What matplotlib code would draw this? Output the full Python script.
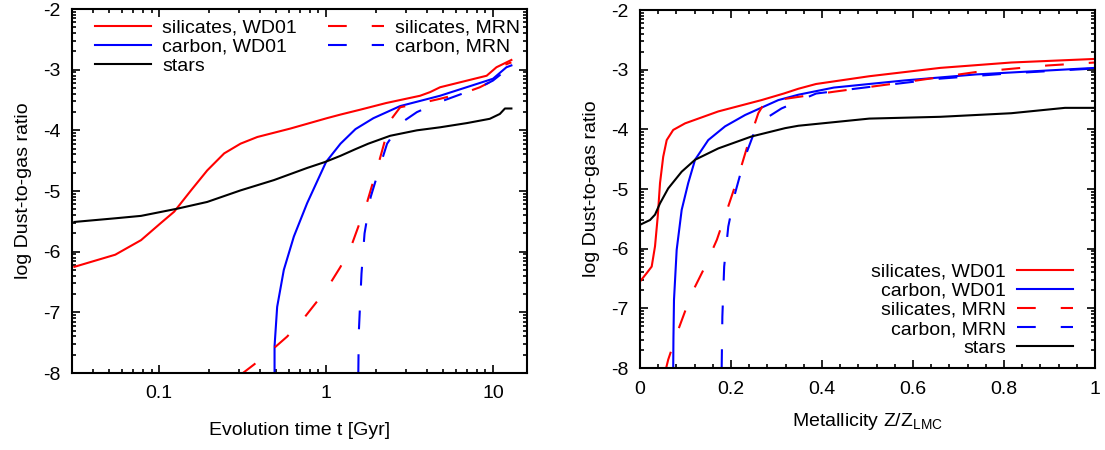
import numpy as np
import matplotlib
matplotlib.use('Agg')
import matplotlib.pyplot as plt
from matplotlib.ticker import FixedLocator, MultipleLocator, NullFormatter

plt.rcParams['font.family'] = ['Liberation Sans', 'DejaVu Sans']
plt.rcParams['font.size'] = 14
plt.rcParams['mathtext.default'] = 'regular'

# ---- left panel: dust-to-gas ratio vs evolution time [Gyr]
t_sil_wd = [0.031, 0.0545, 0.0778, 0.102, 0.123, 0.155, 0.194, 0.245, 0.307, 0.387,
            0.612, 1.01, 1.22, 1.6, 2.29, 3.66, 4.2, 4.82, 9.17, 10.5, 12.05, 12.9]
d_sil_wd = [-6.25, -6.05, -5.81, -5.53, -5.34, -4.99, -4.66, -4.38, -4.22, -4.11,
            -3.97, -3.80, -3.74, -3.66, -3.55, -3.43, -3.37, -3.29, -3.10, -2.96, -2.88, -2.84]

t_stars = [0.031, 0.0545, 0.0778, 0.129, 0.194, 0.307, 0.487, 0.77, 0.99, 1.22,
           1.5, 1.79, 2.42, 3.5, 4.82, 7.0, 9.57, 11.0, 11.8, 12.9]
d_stars = [-5.51, -5.45, -5.41, -5.29, -5.18, -4.99, -4.82, -4.62, -4.52, -4.42,
           -4.31, -4.22, -4.09, -4.00, -3.95, -3.88, -3.81, -3.73, -3.64, -3.64]

t_car_wd = [0.491, 0.491, 0.509, 0.558, 0.641, 0.77, 1.0, 1.22, 1.5, 1.92, 2.78,
            4.82, 10.0, 12.05, 12.9]
d_car_wd = [-8.0, -7.56, -6.91, -6.30, -5.75, -5.20, -4.52, -4.22, -3.98, -3.80, -3.60,
            -3.43, -3.15, -2.96, -2.93]

t_sil_mrn = [0.307, 0.37, 0.487, 0.584, 0.734, 0.883, 1.06, 1.22, 1.41, 1.75, 2.06,
             2.21, 2.42, 2.78, 4.01, 4.82, 6.95, 8.35, 10.0, 11.5, 12.9]
d_sil_mrn = [-8.03, -7.86, -7.59, -7.40, -7.10, -6.82, -6.52, -6.25, -5.92, -5.21, -4.55,
             -4.25, -3.84, -3.62, -3.53, -3.48, -3.37, -3.29, -3.18, -2.93, -2.88]

t_car_mrn = [1.56, 1.57, 1.63, 1.70, 1.85, 2.16, 2.32, 2.84, 3.50, 4.82,
             5.92, 8.35, 10.0, 12.6]
d_car_mrn = [-8.0, -7.34, -6.36, -5.70, -5.10, -4.49, -4.22, -3.87, -3.70, -3.53,
             -3.44, -3.29, -3.18, -2.96]

# ---- right panel: dust-to-gas ratio vs metallicity Z/Z_LMC
z_sil_wd = [0.0, 0.0147, 0.0257, 0.033, 0.039, 0.044, 0.051, 0.0587, 0.073, 0.099,
            0.172, 0.267, 0.316, 0.348, 0.387, 0.504, 0.66, 0.816, 1.0]
m_sil_wd = [-6.55, -6.41, -6.30, -5.96, -5.46, -4.90, -4.46, -4.18, -4.01, -3.90,
            -3.70, -3.51, -3.40, -3.32, -3.24, -3.11, -2.97, -2.88, -2.82]

z_stars = [0.0, 0.022, 0.033, 0.044, 0.062, 0.0916, 0.121, 0.172, 0.245, 0.319,
           0.348, 0.504, 0.66, 0.816, 0.934, 1.0]
m_stars = [-5.60, -5.52, -5.43, -5.24, -4.99, -4.71, -4.51, -4.32, -4.12, -3.98,
           -3.94, -3.82, -3.79, -3.73, -3.64, -3.64]

z_car_wd = [0.073, 0.0735, 0.0747, 0.0806, 0.0916, 0.106, 0.121, 0.150, 0.187, 0.231,
            0.304, 0.348, 0.426, 0.582, 0.738, 1.0]
m_car_wd = [-8.0, -7.5, -6.86, -6.02, -5.35, -4.90, -4.51, -4.18, -3.95, -3.76,
            -3.51, -3.42, -3.30, -3.18, -3.08, -2.97]

z_sil_mrn = [0.0565, 0.062, 0.084, 0.1136, 0.143, 0.169, 0.194, 0.216, 0.238, 0.26,
             0.275, 0.309, 0.426, 0.582, 0.738, 0.895, 1.0]
m_sil_mrn = [-8.03, -7.86, -7.36, -6.75, -6.30, -5.85, -5.29, -4.79, -4.23, -3.73,
             -3.54, -3.50, -3.37, -3.21, -3.04, -2.93, -2.88]

z_car_mrn = [0.1795, 0.181, 0.185, 0.194, 0.209, 0.231, 0.253, 0.282, 0.311, 0.387,
             0.504, 0.66, 0.816, 1.0]
m_car_mrn = [-8.0, -7.14, -6.30, -5.63, -5.07, -4.46, -4.01, -3.79, -3.65, -3.40,
             -3.29, -3.15, -3.06, -2.98]

labels = ['silicates, WD01', 'carbon, WD01', 'silicates, MRN', 'carbon, MRN', 'stars']

RED = '#ff0000'
BLUE = '#0000ff'
LW = 1.5
DASH = (9, 12)

fig = plt.figure(figsize=(11.05, 4.5), dpi=100)
# axes boxes in figure fractions (pixels measured on the reference)
ax1 = fig.add_axes([72 / 1105, 1 - 373 / 450, 455 / 1105, 364 / 450])
ax2 = fig.add_axes([640 / 1105, 1 - 368 / 450, 455 / 1105, 358 / 450])


def style_axis(ax):
    for s in ax.spines.values():
        s.set_linewidth(1.5)
    ax.tick_params(which='both', direction='in', top=True, right=True, width=1.2)
    ax.tick_params(which='major', length=6)
    ax.tick_params(which='minor', length=3)
    ax.tick_params(axis='x', which='major', pad=9)
    ax.tick_params(axis='y', which='major', pad=8)
    # gnuplot-like minor ticks: log spacing inside each unit
    minors = [m - 1 + np.log10(k) for m in range(-7, -1) for k in range(2, 10)]
    ax.yaxis.set_minor_locator(FixedLocator(minors))
    ax.set_ylim(-8, -2)
    ax.set_yticks([-8, -7, -6, -5, -4, -3, -2])
    ax.set_yticklabels(['-8', '-7', '-6', '-5', '-4', '-3', '-2'])
    ax.set_ylabel('log Dust-to-gas ratio', labelpad=8)


leg_kw = dict(frameon=False, handlelength=2.9, handletextpad=0.55,
              labelspacing=0.08, borderpad=0, borderaxespad=0)

# left panel
l1, = ax1.plot(t_sil_wd, d_sil_wd, color=RED, lw=LW)
l2, = ax1.plot(t_car_wd, d_car_wd, color=BLUE, lw=LW)
l5, = ax1.plot(t_stars, d_stars, color='black', lw=LW)
l3, = ax1.plot(t_sil_mrn, d_sil_mrn, color=RED, lw=LW, dashes=DASH)
l4, = ax1.plot(t_car_mrn, d_car_mrn, color=BLUE, lw=LW, dashes=DASH)
ax1.set_xscale('log')
ax1.set_xlim(0.03, 16)
ax1.set_xticks([0.1, 1, 10])
ax1.set_xticklabels(['0.1', '1', '10'])
ax1.xaxis.set_minor_formatter(NullFormatter())
style_axis(ax1)
ax1.set_xlabel('Evolution time t [Gyr]', labelpad=14)
leg_a = ax1.legend([l1, l2, l5], [labels[0], labels[1], labels[4]], loc='upper left',
                   bbox_to_anchor=(0.0505, 0.972), **leg_kw)
ax1.add_artist(leg_a)
ax1.legend([l3, l4], [labels[2], labels[3]], loc='upper left',
           bbox_to_anchor=(0.5626, 0.972), **leg_kw)

# right panel
r1, = ax2.plot(z_sil_wd, m_sil_wd, color=RED, lw=LW)
r2, = ax2.plot(z_car_wd, m_car_wd, color=BLUE, lw=LW)
r3, = ax2.plot(z_sil_mrn, m_sil_mrn, color=RED, lw=LW, dashes=DASH)
r4, = ax2.plot(z_car_mrn, m_car_mrn, color=BLUE, lw=LW, dashes=DASH)
r5, = ax2.plot(z_stars, m_stars, color='black', lw=LW)
ax2.set_xlim(0, 1)
ax2.set_xticks([0, 0.2, 0.4, 0.6, 0.8, 1.0])
ax2.set_xticklabels(['0', '0.2', '0.4', '0.6', '0.8', '1'])
ax2.xaxis.set_minor_locator(MultipleLocator(0.04))
style_axis(ax2)
ax2.set_xlabel('Metallicity Z/Z$_{LMC}$', labelpad=10)
ax2.legend([r1, r2, r3, r4, r5], labels, loc='lower right', markerfirst=False,
           bbox_to_anchor=(0.9516, 0.03), **leg_kw)

fig.savefig('out.png', dpi=100)
